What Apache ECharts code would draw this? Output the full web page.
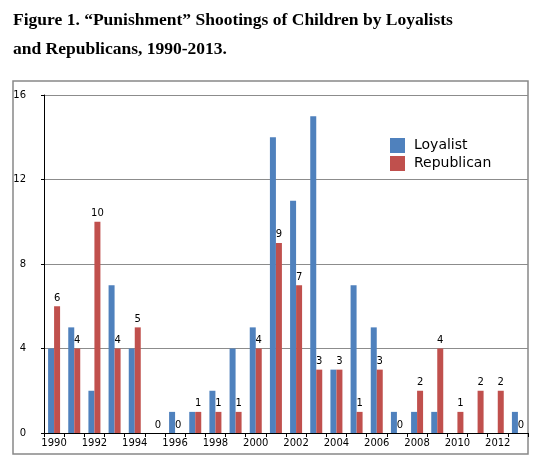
<!DOCTYPE html>
<html>
<head>
<meta charset="utf-8">
<script src="https://cdn.jsdelivr.net/npm/echarts@6/dist/echarts.min.js"></script>
<style>html,body{margin:0;padding:0;background:#fff;}#c{width:544px;height:475px;}</style>
</head>
<body>
<div id="c"></div>
<script>
var years = ['1990','1991','1992','1993','1994','1995','1996','1997','1998','1999','2000','2001','2002','2003','2004','2005','2006','2007','2008','2009','2010','2011','2012','2013'];
var loyalist = [4,5,2,7,4,0,1,1,2,4,5,14,11,15,3,7,5,1,1,1,0,0,0,1];
var republican = [6,4,10,4,5,0,0,1,1,1,4,9,7,3,3,1,3,0,2,4,1,2,2,0];
var titleLine1 = 'Figure 1. \u201CPunishment\u201D Shootings of Children by Loyalists';
var titleLine2 = 'and Republicans, 1990-2013.';
var yTicks = {min: 0, max: 16, interval: 4};

var chart = echarts.init(document.getElementById('c'), null, {renderer: 'canvas'});
var sans = 'DejaVu Sans';
chart.setOption({
  animation: false,
  backgroundColor: '#fff',
  title: [
    {text: titleLine1, left: 13, top: 11, padding: 0,
     textStyle: {fontFamily: 'Liberation Serif', fontWeight: 'bold', fontSize: 17.5, color: '#000'}},
    {text: titleLine2, left: 13, top: 40, padding: 0,
     textStyle: {fontFamily: 'Liberation Serif', fontWeight: 'bold', fontSize: 17.5, color: '#000'}}
  ],
  graphic: [{
    type: 'rect', silent: true, z: -1,
    shape: {x: 13, y: 81, width: 515, height: 373},
    style: {fill: 'none', stroke: '#888', lineWidth: 1.5}
  }],
  legend: {
    orient: 'vertical', left: 390, top: 138, padding: 0,
    itemWidth: 15, itemHeight: 15, itemGap: 3, icon: 'rect',
    textStyle: {fontFamily: sans, fontSize: 14, color: '#000', padding: [0, 0, 0, 4]},
    data: ['Loyalist', 'Republican']
  },
  grid: {left: 44, right: 16, top: 95, bottom: 42, containLabel: false},
  xAxis: {
    type: 'category', data: years,
    axisLine: {lineStyle: {color: '#000', width: 1}},
    axisTick: {show: true, interval: 0, length: 4, lineStyle: {color: '#000'}},
    axisLabel: {interval: 1, fontFamily: sans, fontSize: 10, color: '#000', margin: 5}
  },
  yAxis: {
    type: 'value', min: yTicks.min, max: yTicks.max, interval: yTicks.interval,
    axisLine: {show: true, lineStyle: {color: '#000', width: 1}},
    axisTick: {show: true, length: 3, lineStyle: {color: '#000'}},
    axisLabel: {fontFamily: sans, fontSize: 10, color: '#000', margin: 18},
    splitLine: {lineStyle: {color: '#8c8c8c', width: 1}}
  },
  series: [
    {name: 'Loyalist', type: 'bar', data: loyalist, barWidth: 6, barGap: '0%',
     itemStyle: {color: '#4F81BD'}},
    {name: 'Republican', type: 'bar', data: republican, barWidth: 6, barGap: '0%',
     itemStyle: {color: '#C0504D'},
     label: {show: true, position: 'top', distance: 3, fontFamily: sans, fontSize: 10, color: '#000'}}
  ]
});
</script>
</body>
</html>
